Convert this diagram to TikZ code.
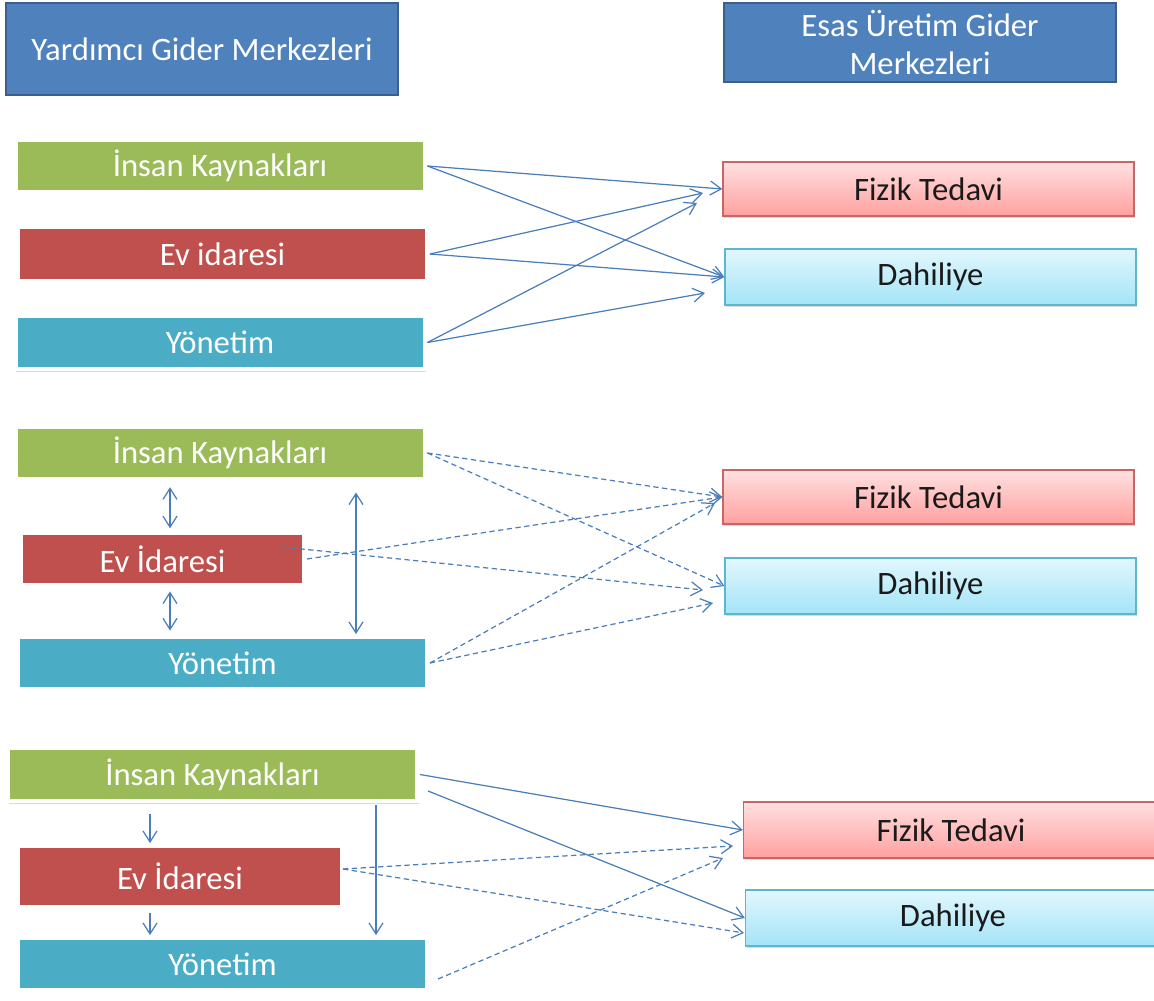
\documentclass[tikz,border=0pt]{standalone}
\usepackage{fontspec}
\setmainfont{Carlito}
\usepackage{tikz}
\usetikzlibrary{arrows.meta,positioning,calc,shadows}
\definecolor{HeadBlue}{HTML}{4F81BD}
\definecolor{HeadLine}{HTML}{3A5F8C}
\definecolor{SrcGreen}{HTML}{9BBB59}
\definecolor{SrcRed}{HTML}{C0504D}
\definecolor{SrcTeal}{HTML}{4BACC6}
\definecolor{FtTop}{HTML}{FFE0E0}
\definecolor{FtBot}{HTML}{FFA0A0}
\definecolor{FtLine}{HTML}{C96563}
\definecolor{DhTop}{HTML}{E2F7FD}
\definecolor{DhBot}{HTML}{A3E4F7}
\definecolor{DhLine}{HTML}{5BB6CE}
\definecolor{LinkBlue}{HTML}{4A7EBB}
\definecolor{TextDark}{HTML}{1A1A1A}

\begin{document}
\begin{tikzpicture}[x=0.02cm, y=-0.02cm, >={Straight Barb[length=2.2mm,width=2.8mm]},
  every node/.style={font=\fontsize{18.6}{21.5}\selectfont, inner sep=0pt},
  head/.style={draw=HeadLine, line width=1.2pt, fill=HeadBlue, text=white, align=center, minimum width=7.84cm},
  src/.style={draw=white, line width=2.8pt, fill=#1, text=white, minimum width=8.2cm, minimum height=1.06cm,
    drop shadow={shadow xshift=0.6pt, shadow yshift=-1.6pt, opacity=0.3}},
  ftbox/.style={top color=FtTop, bottom color=FtBot, draw=FtLine, line width=0.8pt, text=TextDark,
    minimum width=8.22cm, minimum height=1.08cm, drop shadow={shadow xshift=0.6pt, shadow yshift=-1.2pt, opacity=0.3}},
  dhbox/.style={ftbox, top color=DhTop, bottom color=DhBot, draw=DhLine},
  link/.style={->, draw=LinkBlue, line width=0.7pt},
  dlink/.style={link, dash pattern=on 3pt off 2pt}]
\useasboundingbox (0,0) rectangle (1154,1001);

\node[head, minimum height=1.84cm] (hdl) at (202,49) {Yardımcı Gider Merkezleri};
\node[head, minimum height=1.58cm] (hdr) at (920,42.5) {Esas Üretim Gider\\Merkezleri};

% first case
\node[src=SrcGreen] (ik1) at (220,166) {İnsan Kaynakları};
\node[src=SrcRed, minimum height=1.1cm] (ev1) at (222.5,254) {Ev idaresi};
\node[src=SrcTeal] (yn1) at (220,342.5) {Yönetim};
\node[ftbox] (ft1) at (928.5,189) {Fizik Tedavi};
\node[dhbox, minimum height=1.12cm] (dh1) at (930.5,277) {Dahiliye};
\coordinate (a1) at (703,193);
\coordinate (a2) at (697,203);
\coordinate (a3) at (705,293);
\draw[link] (ik1.east) -- (ft1.west);
\draw[link] (ik1.east) -- (dh1.west);
\draw[link] (ev1.east) -- (a1);
\draw[link] (ev1.east) -- (dh1.west);
\draw[link] (yn1.east) -- (a2);
\draw[link] (yn1.east) -- (a3);

% second case
\node[src=SrcGreen] (ik2) at (220,453) {İnsan Kaynakları};
\node[src=SrcRed, minimum width=5.68cm] (ev2) at (162.5,559) {Ev İdaresi};
\node[src=SrcTeal] (yn2) at (222.5,663) {Yönetim};
\node[ftbox] (ft2) at (928.5,497) {Fizik Tedavi};
\node[dhbox, minimum height=1.12cm] (dh2) at (930.5,586) {Dahiliye};
\coordinate (b0) at (282,547);
\coordinate (b1) at (703,590);
\coordinate (b2) at (715,503);
\coordinate (b3) at (713,603);
\draw[dlink] (ik2.east) -- (ft2.west);
\draw[dlink] (ik2.east) -- (dh2.west);
\draw[dlink] (ev2.east) -- (ft2.west);
\draw[dlink] (b0) -- (b1);
\draw[dlink] (yn2.east) -- (b2);
\draw[dlink] (yn2.east) -- (b3);
\draw[link,<->,shorten <=3pt,shorten >=1pt] ($(ev2.north |- ik2.south)+(7.5,0)$) -- ($(ev2.north)+(7.5,0)$);
\draw[link,<->,shorten <=2pt,shorten >=2pt] ($(ev2.south)+(7.5,0)$) -- ($(ev2.south |- yn2.north)+(7.5,0)$);
\draw[link,<->,shorten <=6pt] ($(ik2.south)+(136,0)$) -- ($(ik2.south |- yn2.north)+(136,0)$);

% third case
\node[src=SrcGreen] (ik3) at (212.5,774.5) {İnsan Kaynakları};
\node[src=SrcRed, minimum width=6.5cm, minimum height=1.24cm] (ev3) at (180,876.5) {Ev İdaresi};
\node[src=SrcTeal] (yn3) at (222.5,964) {Yönetim};
\node[ftbox, minimum width=8.3cm, minimum height=1.12cm] (ft3) at (951,830) {Fizik Tedavi};
\node[dhbox, minimum width=8.3cm, minimum height=1.12cm] (dh3) at (953,918) {Dahiliye};
\coordinate (c0) at (428,791);
\coordinate (c1) at (343,869);
\coordinate (c2) at (733,846);
\coordinate (c3) at (744,933);
\coordinate (c4) at (438,979);
\coordinate (c5) at (723,858);
\draw[link] (ik3.east) -- (ft3.west);
\draw[link] (c0) -- (dh3.west);
\draw[dlink] (c1) -- (c2);
\draw[dlink] (c1) -- (c3);
\draw[dlink] (c4) -- (c5);
\draw[link,shorten <=6pt] ($(ev3.north |- ik3.south)+(-30,0)$) -- ($(ev3.north)+(-30,0)$);
\draw[link,shorten <=2pt] ($(ev3.south)+(-30,0)$) -- ($(ev3.south |- yn3.north)+(-30,0)$);
\draw[link,shorten <=1pt] ($(ik3.south)+(163.5,0)$) -- ($(ik3.south |- yn3.north)+(163.5,0)$);
\end{tikzpicture}
\end{document}
